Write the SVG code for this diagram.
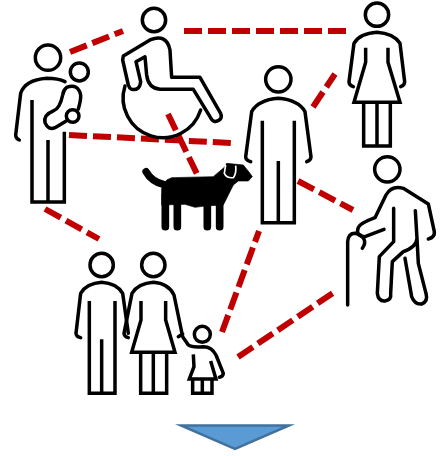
<svg xmlns="http://www.w3.org/2000/svg" width="445" height="456" viewBox="0 0 445 456">
<style>
.f{fill:none;stroke:#000;stroke-width:10.5;stroke-linecap:round;stroke-linejoin:round}
.m{fill:none;stroke:#000;stroke-width:10.5;stroke-linecap:butt;stroke-linejoin:miter}
.d{fill:none;stroke:#C00000;stroke-width:6;stroke-dasharray:18 6}
</style>
<rect width="445" height="456" fill="#fff"/>
<g id="connectors">
<path class="d" d="M70,52L123,31"/>
<path class="d" d="M184,31L346,31"/>
<path class="d" d="M69,135L231,143"/>
<path class="d" d="M168,114L197,174"/>
<path class="d" d="M313,107L335,74"/>
<path class="d" d="M298,181L353,210"/>
<path class="d" d="M45,209L99,239"/>
<path class="d" d="M222,332L259,231"/>
<path class="d" d="M238,357L333,293"/>
</g>
<g id="parent-with-baby" transform="scale(.3333)">
<circle class="f" cx="144" cy="173" r="38"/>
<path class="f" d="M58,420Q47,415 47,405L62,280Q75,240 140,235Q175,235 195,245"/>
<path class="m" d="M96,300V606H193V395M144,420V606"/>
<circle class="f" cx="238" cy="216" r="27"/>
<path class="f" d="M200,262Q235,250 242,285Q243,300 235,327M200,362L165,383Q145,392 135,368Q130,345 160,333Q180,325 188,285Q190,270 200,262"/>
<circle class="f" cx="218" cy="348" r="19"/>
</g>
<g id="wheelchair-user" transform="scale(.3333)">
<circle class="f" cx="462" cy="60" r="35"/>
<path class="f" d="M370,168L450,120Q500,100 510,150L515,232H600L662,340Q670,360 645,365Q635,362 630,350L580,268H480Q445,265 440,225L435,170L408,185L422,245Q420,272 395,268Q388,265 385,255L368,180Z"/>
<path class="f" d="M375,258A118,118 0 1 0 602,330" stroke-linecap="butt"/>
</g>
<g id="dog" transform="translate(135 155) scale(.3333)">
<path d="M80,100L95,75L110,68L235,65L270,35L275,25L325,30L345,55L352,65L340,78L310,78L295,90L265,150L210,153L180,157L150,148L80,150Z" fill="#000" stroke="#000" stroke-width="2" stroke-linejoin="round"/>
<path d="M33,50Q50,80 85,88" fill="none" stroke="#000" stroke-width="22" stroke-linecap="round"/>
<path d="M91,120V215M127,140V215M217,140V215M254,140V215" fill="none" stroke="#000" stroke-width="23" stroke-linecap="round"/>
<path d="M272,30L268,55Q275,70 295,68Q305,55 302,32" fill="none" stroke="#fff" stroke-width="5"/>
</g>
<g id="man-centre" transform="translate(230 0) scale(.3333)">
<circle class="f" cx="145" cy="238" r="38"/>
<path class="f" d="M62,485Q47,480 47,470L65,335Q85,300 145,295Q205,300 225,335L243,470Q243,480 230,485"/>
<path class="m" d="M97,362V668H193V362M145,483V668"/>
</g>
<g id="woman-top" transform="translate(230 0) scale(.3333)">
<circle class="f" cx="441" cy="44" r="35"/>
<path class="f" d="M370,260Q357,255 357,245L372,130Q390,100 441,97Q490,100 510,130L524,245Q524,255 512,260"/>
<path class="m" d="M407,143V187L372,307H510L474,187V143M401,307V438H481V307M441,307V438"/>
</g>
<g id="elder-with-cane" transform="translate(300 140) scale(.3333)">
<circle class="f" cx="262" cy="88" r="38"/>
<path class="f" d="M143,495V305Q145,280 165,280Q185,283 192,298Q198,310 187,325"/>
<path class="f" d="M252,268L195,290Q165,290 175,262Q180,250 225,233L258,165Q275,135 310,145L385,192L403,275Q405,292 385,297"/>
<path class="f" d="M281,205V305L238,350L232,460Q235,485 255,483Q275,480 272,460L277,365L310,335Q350,320 351,295L346,212M315,355L335,470Q345,495 365,492Q385,485 378,460L355,370L351,295"/>
</g>
<g id="family" transform="translate(60 230) scale(.3333)">
<circle class="f" cx="125" cy="105" r="35"/>
<path class="f" d="M62,323Q48,320 48,310L62,190Q80,160 125,157Q170,160 188,190L205,310"/>
<path class="m" d="M88,213V490H165V213M125,328V490"/>
<circle class="f" cx="280" cy="105" r="35"/>
<path class="f" d="M205,323Q192,320 192,310L216,190Q235,160 280,157Q325,160 342,195L368,320L385,345Q395,353 430,350Q455,350 468,375L490,430Q490,440 478,442M355,320L368,312"/>
<path class="m" d="M243,213V270L215,367H345L317,270V213M242,367V490H320V367M280,367V490"/>
<circle class="f" cx="427" cy="313" r="24"/>
<path class="m" d="M400,373L402,410L388,447H468L452,393M398,447V490H456V447M427,447V490"/>
</g>
<g id="down-arrow">
<path d="M181,425.5H289L235,449Z" fill="#5B9BD5" stroke="#41719C" stroke-width="2.5" stroke-miterlimit="10"/>
</g>
</svg>
